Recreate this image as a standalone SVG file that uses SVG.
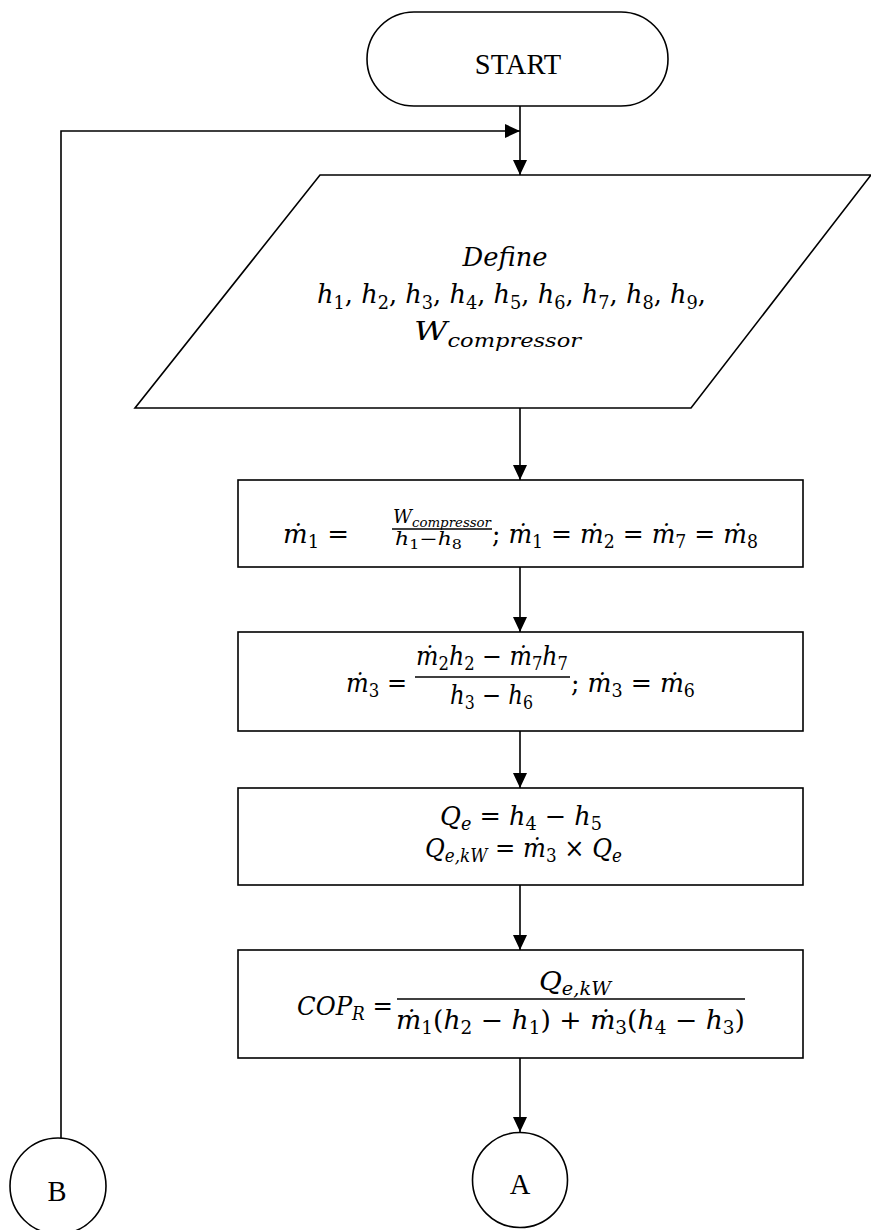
<svg xmlns="http://www.w3.org/2000/svg" width="871" height="1230" viewBox="0 0 871 1230">
<style>
.shape{fill:#fff;stroke:#000;stroke-width:1.6}
.conn{fill:none;stroke:#000;stroke-width:1.6}
.t{font-family:"Liberation Serif","Times New Roman",serif;font-size:28.5px;fill:#000}
.m{font-family:"DejaVu Serif","Liberation Serif",serif;font-size:26px;fill:#000}
.i{font-style:italic}
.s{font-size:18px}
.fl{stroke:#000;stroke-width:1.4}
</style>
<defs>
<marker id="arr" markerUnits="userSpaceOnUse" markerWidth="16" markerHeight="14" refX="15" refY="7" orient="auto">
<path d="M0,0 L15,7 L0,14 z" fill="#000"/>
</marker>
</defs>
<g id="connectors">
<line class="conn" x1="520" y1="106" x2="520" y2="175" marker-end="url(#arr)"/>
<polyline class="conn" points="61,1139 61,131 520,131" marker-end="url(#arr)"/>
<line class="conn" x1="520" y1="408" x2="520" y2="480" marker-end="url(#arr)"/>
<line class="conn" x1="520" y1="567" x2="520" y2="632" marker-end="url(#arr)"/>
<line class="conn" x1="520" y1="731" x2="520" y2="788" marker-end="url(#arr)"/>
<line class="conn" x1="520" y1="885" x2="520" y2="950" marker-end="url(#arr)"/>
<line class="conn" x1="520" y1="1058" x2="520" y2="1132" marker-end="url(#arr)"/>
</g>
<g id="start">
<rect class="shape" x="367" y="12" width="301" height="94" rx="47" ry="47"/>
<text class="t" x="518" y="74" text-anchor="middle">START</text>
</g>
<g id="define">
<polygon class="shape" points="320,175 871,175 691,408 135,408"/>
<text class="m i" x="505" y="266" text-anchor="middle" textLength="85" lengthAdjust="spacingAndGlyphs">Define</text>
<text class="m" x="317" y="303" textLength="389" lengthAdjust="spacingAndGlyphs"><tspan class="i">h</tspan><tspan class="s" dy="6">1</tspan><tspan dy="-6">, </tspan><tspan class="i">h</tspan><tspan class="s" dy="6">2</tspan><tspan dy="-6">, </tspan><tspan class="i">h</tspan><tspan class="s" dy="6">3</tspan><tspan dy="-6">, </tspan><tspan class="i">h</tspan><tspan class="s" dy="6">4</tspan><tspan dy="-6">, </tspan><tspan class="i">h</tspan><tspan class="s" dy="6">5</tspan><tspan dy="-6">, </tspan><tspan class="i">h</tspan><tspan class="s" dy="6">6</tspan><tspan dy="-6">, </tspan><tspan class="i">h</tspan><tspan class="s" dy="6">7</tspan><tspan dy="-6">, </tspan><tspan class="i">h</tspan><tspan class="s" dy="6">8</tspan><tspan dy="-6">, </tspan><tspan class="i">h</tspan><tspan class="s" dy="6">9</tspan><tspan dy="-6">,</tspan></text>
<text class="m i" x="414" y="340" textLength="167" lengthAdjust="spacingAndGlyphs">W<tspan class="s" dy="7">compressor</tspan></text>
</g>
<g id="mass1">
<rect class="shape" x="238" y="480" width="565" height="87"/>
<text class="m" x="283" y="543"><tspan class="i">ṁ</tspan><tspan class="s" dy="5">1</tspan><tspan dy="-5"> =</tspan></text>
<text class="m i" x="393" y="523" style="font-size:18px" textLength="98" lengthAdjust="spacingAndGlyphs">W<tspan style="font-size:13px" dy="4">compressor</tspan></text>
<line class="fl" x1="392" y1="529" x2="492" y2="529"/>
<text class="m" x="395" y="545" style="font-size:18px" textLength="67" lengthAdjust="spacingAndGlyphs"><tspan class="i">h</tspan><tspan style="font-size:13px" dy="4">1</tspan><tspan dy="-4">−</tspan><tspan class="i">h</tspan><tspan style="font-size:13px" dy="4">8</tspan></text>
<text class="m" x="492" y="543" textLength="266" lengthAdjust="spacingAndGlyphs">; <tspan class="i">ṁ</tspan><tspan class="s" dy="5">1</tspan><tspan dy="-5"> = </tspan><tspan class="i">ṁ</tspan><tspan class="s" dy="5">2</tspan><tspan dy="-5"> = </tspan><tspan class="i">ṁ</tspan><tspan class="s" dy="5">7</tspan><tspan dy="-5"> = </tspan><tspan class="i">ṁ</tspan><tspan class="s" dy="5">8</tspan></text>
</g>
<g id="mass3">
<rect class="shape" x="238" y="632" width="565" height="99"/>
<text class="m" x="346" y="692" textLength="61" lengthAdjust="spacingAndGlyphs"><tspan class="i">ṁ</tspan><tspan class="s" dy="5">3</tspan><tspan dy="-5"> =</tspan></text>
<text class="m" x="416" y="665" textLength="152" lengthAdjust="spacingAndGlyphs"><tspan class="i">ṁ</tspan><tspan class="s" dy="5">2</tspan><tspan class="i" dy="-5">h</tspan><tspan class="s" dy="5">2</tspan><tspan dy="-5"> − </tspan><tspan class="i">ṁ</tspan><tspan class="s" dy="5">7</tspan><tspan class="i" dy="-5">h</tspan><tspan class="s" dy="5">7</tspan></text>
<line class="fl" x1="415" y1="677" x2="570" y2="677"/>
<text class="m" x="450" y="704" textLength="83" lengthAdjust="spacingAndGlyphs"><tspan class="i">h</tspan><tspan class="s" dy="5">3</tspan><tspan dy="-5"> − </tspan><tspan class="i">h</tspan><tspan class="s" dy="5">6</tspan></text>
<text class="m" x="571" y="692" textLength="124" lengthAdjust="spacingAndGlyphs">; <tspan class="i">ṁ</tspan><tspan class="s" dy="5">3</tspan><tspan dy="-5"> = </tspan><tspan class="i">ṁ</tspan><tspan class="s" dy="5">6</tspan></text>
</g>
<g id="heat">
<rect class="shape" x="238" y="788" width="565" height="97"/>
<text class="m" x="440" y="825" textLength="162" lengthAdjust="spacingAndGlyphs"><tspan class="i">Q</tspan><tspan class="s i" dy="5">e</tspan><tspan dy="-5"> = </tspan><tspan class="i">h</tspan><tspan class="s" dy="5">4</tspan><tspan dy="-5"> − </tspan><tspan class="i">h</tspan><tspan class="s" dy="5">5</tspan></text>
<text class="m" x="425" y="857" textLength="197" lengthAdjust="spacingAndGlyphs"><tspan class="i">Q</tspan><tspan class="s i" dy="5">e,kW</tspan><tspan dy="-5"> = </tspan><tspan class="i">ṁ</tspan><tspan class="s" dy="5">3</tspan><tspan dy="-5"> × </tspan><tspan class="i">Q</tspan><tspan class="s i" dy="5">e</tspan></text>
</g>
<g id="cop">
<rect class="shape" x="238" y="950" width="565" height="108"/>
<text class="m" x="297" y="1015" textLength="96" lengthAdjust="spacingAndGlyphs"><tspan class="i">COP</tspan><tspan class="s i" dy="5">R</tspan><tspan dy="-5"> =</tspan></text>
<text class="m" x="539" y="990" textLength="72" lengthAdjust="spacingAndGlyphs"><tspan class="i">Q</tspan><tspan class="s i" dy="5">e,kW</tspan></text>
<line class="fl" x1="397" y1="999" x2="745" y2="999"/>
<text class="m" x="396" y="1029" textLength="349" lengthAdjust="spacingAndGlyphs"><tspan class="i">ṁ</tspan><tspan class="s" dy="5">1</tspan><tspan dy="-5">(</tspan><tspan class="i">h</tspan><tspan class="s" dy="5">2</tspan><tspan dy="-5"> − </tspan><tspan class="i">h</tspan><tspan class="s" dy="5">1</tspan><tspan dy="-5">) + </tspan><tspan class="i">ṁ</tspan><tspan class="s" dy="5">3</tspan><tspan dy="-5">(</tspan><tspan class="i">h</tspan><tspan class="s" dy="5">4</tspan><tspan dy="-5"> − </tspan><tspan class="i">h</tspan><tspan class="s" dy="5">3</tspan><tspan dy="-5">)</tspan></text>
</g>
<g id="connA">
<circle class="shape" cx="520" cy="1180" r="47.5"/>
<text class="t" x="520" y="1194" text-anchor="middle">A</text>
</g>
<g id="connB">
<circle class="shape" cx="58" cy="1186" r="48"/>
<text class="t" x="57" y="1201" text-anchor="middle">B</text>
</g>
</svg>
